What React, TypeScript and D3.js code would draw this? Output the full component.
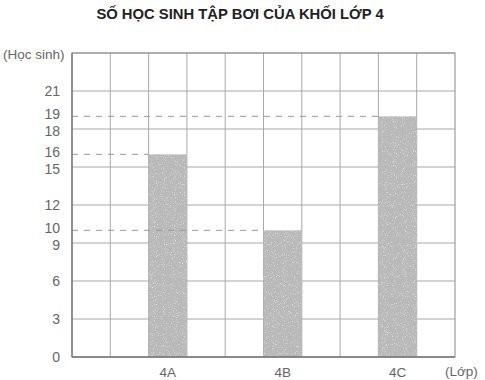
import React from "react";
import * as d3 from "d3";

const categories = ["4A", "4B", "4C"];
const values = [16, 10, 19];
const yTicks = [0, 3, 6, 9, 10, 12, 15, 16, 18, 19, 21];
const gridValues = [3, 6, 9, 12, 15, 18, 21, 24];
const title = "SỐ HỌC SINH TẬP BƠI CỦA KHỐI LỚP 4";
const yUnit = "(Học sinh)";
const xUnit = "(Lớp)";

const W = 485;
const H = 380;
const left = 72;
const right = 455;
const top = 53;
const bottom = 357;
const nCols = 10;

export default function App() {
  const y = d3.scaleLinear().domain([0, 24]).range([bottom, top]);
  const x = d3.scaleLinear().domain([0, nCols]).range([left, right]);
  const col = (i: number) => 2 + 3 * i;
  const font = "'Liberation Sans', Arial, sans-serif";
  const grid = "#a8a8a8";
  const tickColor = "#666";

  return (
    <svg width={W} height={H} style={{ position: "absolute", left: 0, top: 0 }}>
      <defs>
        <filter id="grain" x="0" y="0" width="100%" height="100%">
          <feTurbulence type="fractalNoise" baseFrequency="0.9" numOctaves="2" seed="3" result="n" />
          <feColorMatrix type="matrix" values="0 0 0 0 1  0 0 0 0 1  0 0 0 0 1  0 0 0 2.2 -1.3" in="n" result="w" />
          <feComposite in="w" in2="SourceGraphic" operator="in" result="c" />
          <feMerge>
            <feMergeNode in="SourceGraphic" />
            <feMergeNode in="c" />
          </feMerge>
        </filter>
      </defs>
      <rect x={0} y={0} width={W} height={H} fill="#fff" />
      <text x={240} y={19} textAnchor="middle" fontFamily={font} fontWeight="bold" fontSize={14.8} fill="#222">
        {title}
      </text>
      {/* vertical grid */}
      {d3.range(1, nCols).map((i) => (
        <line key={"v" + i} x1={x(i)} x2={x(i)} y1={top} y2={bottom} stroke={grid} strokeWidth={1} />
      ))}
      {/* horizontal grid */}
      {gridValues.map((v) => (
        <line key={"h" + v} x1={left} x2={right} y1={y(v)} y2={y(v)} stroke={grid} strokeWidth={1} />
      ))}
      {/* bars */}
      {values.map((v, i) => (
        <rect
          key={"b" + i}
          x={x(col(i))}
          y={y(v)}
          width={x(col(i) + 1) - x(col(i))}
          height={bottom - y(v)}
          fill="#b9b9b9"
          filter="url(#grain)"
        />
      ))}
      {/* dashed guides */}
      {values.map((v, i) => (
        <line
          key={"d" + i}
          x1={left}
          x2={x(col(i))}
          y1={y(v)}
          y2={y(v)}
          stroke="#999"
          strokeWidth={1}
          strokeDasharray="6,6"
        />
      ))}
      {/* frame */}
      <rect x={left} y={top} width={right - left} height={bottom - top} fill="none" stroke="#8a8a8a" strokeWidth={1} />
      <line x1={left} x2={left} y1={top} y2={bottom} stroke="#777" strokeWidth={1.3} />
      <line x1={left} x2={right} y1={bottom} y2={bottom} stroke="#777" strokeWidth={1.3} />
      {/* y tick labels */}
      {yTicks.map((t) => (
        <text
          key={"t" + t}
          x={60}
          y={y(t) + (t === 19 || t === 16 || t === 10 ? -1 : t === 18 || t === 15 || t === 9 ? 3 : 1)}
          textAnchor="end"
          dominantBaseline="middle"
          fontFamily={font}
          fontSize={14}
          fill={tickColor}
        >
          {t}
        </text>
      ))}
      <text x={3} y={55} dominantBaseline="middle" fontFamily={font} fontSize={13.5} fill={tickColor}>
        {yUnit}
      </text>
      {/* x labels */}
      {categories.map((c, i) => (
        <text
          key={"c" + c}
          x={(x(col(i)) + x(col(i) + 1)) / 2}
          y={377}
          textAnchor="middle"
          fontFamily={font}
          fontSize={13.5}
          fill={tickColor}
        >
          {c}
        </text>
      ))}
      <text x={445} y={376} fontFamily={font} fontSize={13.5} fill={tickColor}>
        {xUnit}
      </text>
    </svg>
  );
}
